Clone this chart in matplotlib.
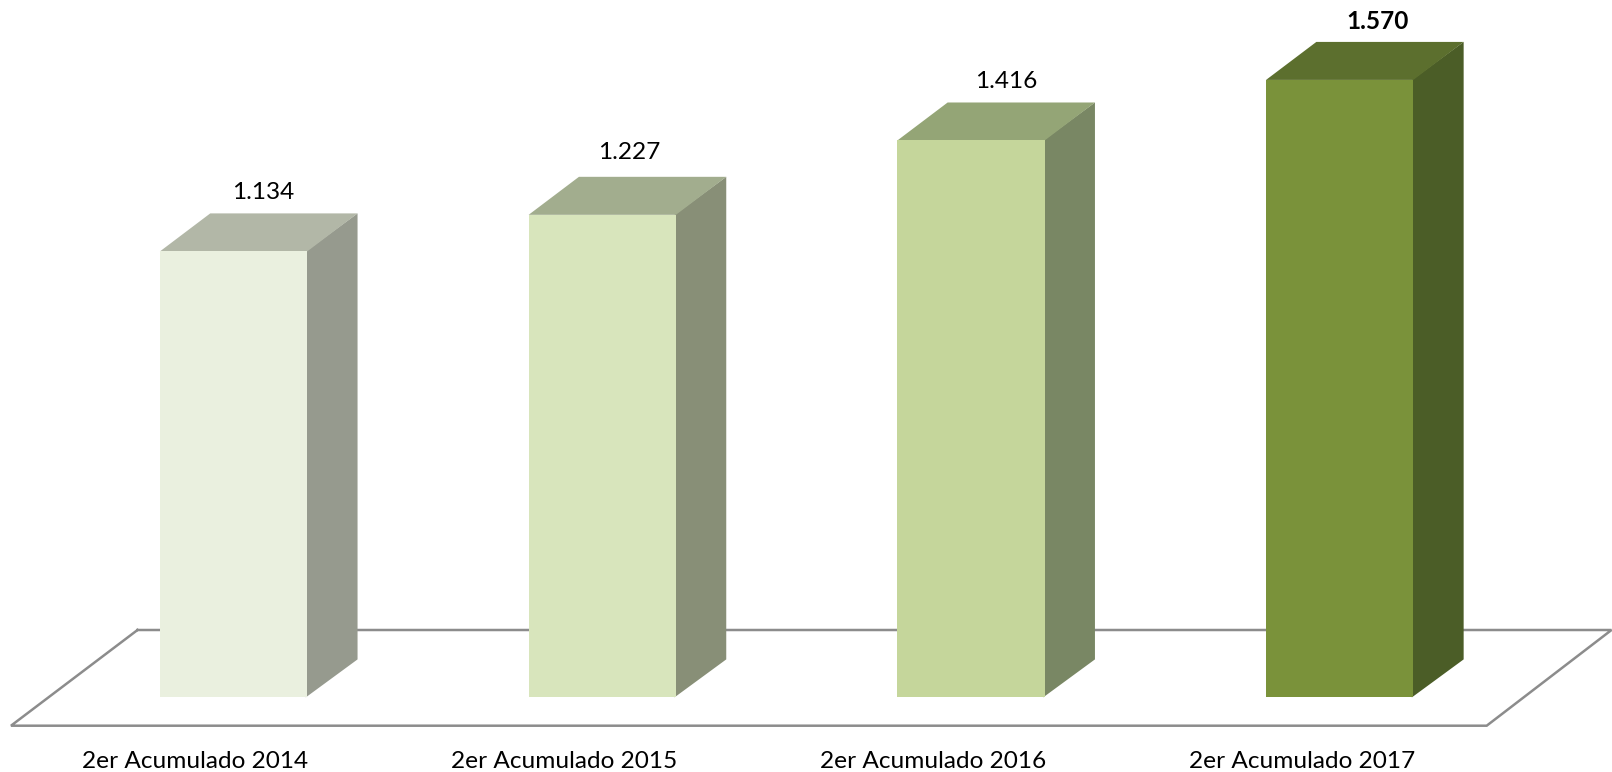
#!/usr/bin/env python3
"""Pseudo-3D column chart: 2er Acumulado 2014-2017."""

import matplotlib as mpl
mpl.use("Agg")
import matplotlib.pyplot as plt

mpl.rcParams.update({"font.family": ["Lato", "DejaVu Sans"]})

# ── Data ──────────────────────────────────────────────────────────────────────
categories = ["2er Acumulado 2014", "2er Acumulado 2015",
              "2er Acumulado 2016", "2er Acumulado 2017"]
values = [1134, 1227, 1416, 1570]
value_labels = ["1.134", "1.227", "1.416", "1.570"]

# ── Style ─────────────────────────────────────────────────────────────────────
FRONT = ["#EAF0DF", "#D8E5BC", "#C5D69B", "#7A923A"]
SIDE = ["#969A8E", "#888F77", "#798764", "#4B5D27"]
TOP = ["#B2B7A7", "#A2AD8E", "#94A576", "#5C6F2E"]
FLOOR_COLOR = "#8C8C8C"

W, H = 1612, 772
X0_PX, STEP_PX = 233.6, 368.7   # first bar centre, bar spacing
Y0_PX, UNIT_PX = 697.4, 0.3933  # baseline, pixels per value unit

BAR_W = 147.3 / STEP_PX
DX = 50.3 / STEP_PX             # depth of the fake 3D
DY = 38.0 / UNIT_PX
SEAM = 1.5 / STEP_PX            # side face tucks under the front face
LABEL_SHIFT = [4 / STEP_PX, 2 / STEP_PX, 10 / STEP_PX, 13 / STEP_PX]
LABEL_LIFT = [20.5 / UNIT_PX, 24 / UNIT_PX, 21 / UNIT_PX, 20 / UNIT_PX]
FONT_SIZE = 17.6


def x_px(px):
    return (px - X0_PX) / STEP_PX


def y_px(py):
    return (Y0_PX - py) / UNIT_PX


fig = plt.figure(figsize=(W / 100, H / 100), dpi=100)
ax = fig.add_axes([0, 0, 1, 1])
ax.set_xlim(x_px(0), x_px(W))
ax.set_ylim(y_px(H), y_px(0))
ax.axis("off")

# Floor
floor_x = [x_px(137.5), x_px(11), x_px(1486.7), x_px(1611.5)]
floor_y = [y_px(630), y_px(725.7), y_px(725.7), y_px(630)]
ax.plot(floor_x + floor_x[:1], floor_y + floor_y[:1], color=FLOOR_COLOR,
        lw=1.8, zorder=1, solid_joinstyle="miter", clip_on=False)

# Bars
xs = list(range(len(values)))
ax.bar(xs, values, width=BAR_W, color=FRONT, linewidth=0, zorder=3)
for i, v in enumerate(values):
    left, right = i - BAR_W / 2, i + BAR_W / 2
    ax.fill([right - SEAM, right + DX, right + DX, right - SEAM],
            [0, DY, v + DY, v], color=SIDE[i], lw=0, zorder=2)
    ax.fill([left, left + DX, right + DX, right],
            [v, v + DY, v + DY, v], color=TOP[i], lw=0, zorder=2)
    ax.text(i + DX / 2 + LABEL_SHIFT[i], v + DY + LABEL_LIFT[i], value_labels[i],
            ha="center", va="center", fontsize=FONT_SIZE, color="black",
            fontweight="bold" if i == 3 else "normal")

# Category labels sit under the floor's front edge
front_left, front_right = x_px(11), x_px(1486.7)
slot = (front_right - front_left) / len(categories)
for i, label in enumerate(categories):
    ax.text(front_left + slot * (i + 0.5), y_px(761), label,
            ha="center", va="center", fontsize=FONT_SIZE, color="black")

fig.savefig("out.png", dpi=100)
